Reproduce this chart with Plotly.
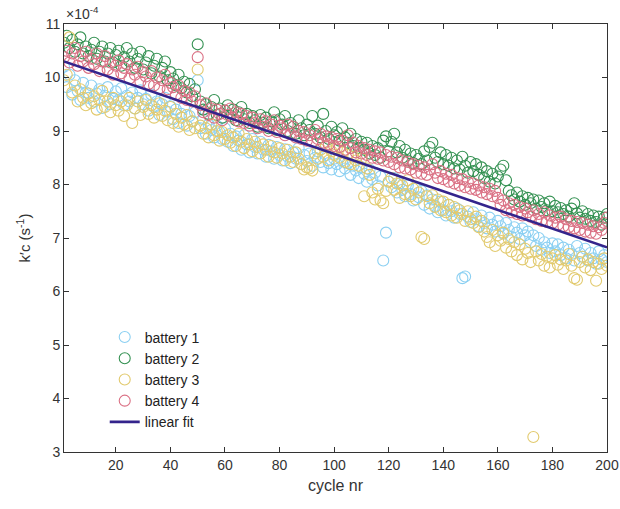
import plotly.graph_objects as go

# Rate constant k'c per cycle (units of 1e-4 s^-1), one list per battery
cycles = list(range(1, 201))

battery_1 = [
    10.20, 9.82, 10.05, 9.68, 9.95, 9.75, 9.58, 9.90, 9.72, 9.62,
    9.85, 9.55, 9.70, 9.78, 9.43, 9.66, 9.82, 9.50, 9.60, 9.74,
    9.58, 9.80, 9.48, 9.66, 9.55, 9.72, 9.42, 9.62, 9.76, 9.50,
    9.60, 9.38, 9.68, 9.45, 9.55, 9.30, 9.50, 9.62, 9.36, 9.46,
    9.22, 9.40, 9.15, 9.32, 9.45, 9.10, 9.28, 9.18, 9.35, 9.95,
    9.05, 9.22, 8.95, 9.12, 9.02, 8.88, 9.10, 8.98, 8.85, 9.05,
    8.80, 8.95, 8.72, 8.90, 8.82, 8.65, 8.92, 8.75, 8.60, 8.85,
    8.70, 8.58, 8.80, 8.65, 8.52, 8.74, 8.62, 8.48, 8.70, 8.55,
    8.45, 8.66, 8.52, 8.40, 8.60, 8.48, 8.68, 8.38, 8.55, 8.44,
    8.58, 8.35, 8.50, 8.62, 8.42, 8.32, 8.55, 8.40, 8.28, 8.48,
    8.38, 8.25, 8.45, 8.30, 8.40, 8.18, 8.35, 8.26, 8.12, 8.32,
    8.20, 8.05, 8.28, 8.10, 8.22, 7.98, 8.15, 6.58, 7.10, 8.05,
    7.95, 8.12, 7.85, 8.02, 7.90, 7.78, 7.98, 7.82, 7.70, 7.92,
    7.76, 7.88, 7.62, 7.80, 7.55, 7.72, 7.60, 7.48, 7.68, 7.52,
    7.42, 7.62, 7.50, 7.38, 7.55, 7.45, 6.25, 6.28, 7.40, 7.30,
    7.48, 7.35, 7.22, 7.42, 7.28, 7.18, 7.38, 7.25, 7.12, 7.32,
    7.22, 7.08, 7.28, 7.15, 7.02, 7.20, 7.10, 6.98, 7.18, 7.05,
    7.12, 6.92, 7.05, 6.85, 7.00, 6.78, 6.92, 6.82, 6.72, 6.90,
    6.75, 6.88, 6.68, 6.82, 6.62, 6.78, 6.70, 6.58, 6.85, 6.72,
    6.65, 6.80, 6.58, 6.72, 6.62, 6.52, 6.75, 6.60, 6.68, 6.55,
]

battery_2 = [
    10.65, 10.78, 10.55, 10.70, 10.48, 10.62, 10.75, 10.45, 10.58, 10.40,
    10.52, 10.65, 10.35, 10.48, 10.58, 10.30, 10.45, 10.55, 10.28, 10.42,
    10.50, 10.22, 10.38, 10.55, 10.30, 10.45, 10.18, 10.35, 10.48, 10.15,
    10.28, 10.40, 10.08, 10.22, 10.35, 10.02, 10.18, 10.30, 9.95, 10.10,
    9.98, 9.85, 10.05, 9.80, 9.92, 9.72, 9.88, 9.65, 9.78, 10.62,
    9.55, 9.40, 9.50, 9.32, 9.45, 9.58, 9.30, 9.42, 9.25, 9.38,
    9.48, 9.28, 9.40, 9.20, 9.35, 9.45, 9.22, 9.32, 9.15, 9.28,
    9.20, 9.08, 9.30, 9.15, 9.25, 9.05, 9.18, 9.35, 9.02, 9.22,
    9.12, 9.28, 9.00, 9.15, 9.08, 8.95, 9.20, 9.05, 8.92, 9.12,
    9.02, 9.28, 8.95, 9.10, 8.88, 9.32, 9.00, 8.85, 9.08, 8.92,
    8.98, 8.82, 9.05, 8.88, 8.78, 8.95, 8.72, 8.85, 8.68, 8.80,
    8.65, 8.78, 8.58, 8.72, 8.55, 8.68, 8.50, 8.82, 8.90, 8.62,
    8.80, 8.95, 8.60, 8.72, 8.50, 8.65, 8.45, 8.58, 8.40, 8.55,
    8.48, 8.38, 8.62, 8.45, 8.70, 8.78, 8.50, 8.42, 8.60, 8.38,
    8.55, 8.35, 8.50, 8.30, 8.45, 8.28, 8.52, 8.35, 8.22, 8.42,
    8.25, 8.38, 8.18, 8.32, 8.12, 8.25, 8.05, 8.20, 8.02, 8.15,
    8.28, 8.35, 8.08, 7.88, 7.80, 7.72, 7.85, 7.68, 7.78, 7.62,
    7.75, 7.65, 7.72, 7.55, 7.70, 7.58, 7.65, 7.52, 7.68, 7.50,
    7.60, 7.48, 7.56, 7.45, 7.52, 7.40, 7.55, 7.65, 7.46, 7.38,
    7.50, 7.36, 7.45, 7.32, 7.42, 7.30, 7.40, 7.25, 7.38, 7.45,
]

battery_3 = [
    9.95, 10.05, 10.75, 9.72, 9.85, 9.55, 9.78, 9.62, 9.48, 9.70,
    9.52, 9.65, 9.40, 9.58, 9.75, 9.45, 9.55, 9.35, 9.62, 9.48,
    9.38, 9.55, 9.28, 9.48, 9.62, 9.15, 9.42, 9.55, 9.30, 9.45,
    9.58, 9.32, 9.48, 9.25, 9.40, 9.52, 9.28, 9.38, 9.20, 9.45,
    9.15, 9.32, 9.08, 9.25, 9.12, 9.30, 9.02, 9.18, 9.05, 10.15,
    9.10, 8.95, 9.05, 8.88, 9.12, 8.92, 9.00, 8.82, 8.98, 8.85,
    8.92, 8.78, 8.88, 8.72, 8.95, 8.80, 8.68, 8.85, 8.75, 8.62,
    8.80, 8.70, 8.58, 8.75, 8.65, 8.52, 8.72, 8.60, 8.50, 8.68,
    8.58, 8.45, 8.65, 8.52, 8.42, 8.60, 8.48, 8.38, 8.28, 8.32,
    8.30, 8.26, 8.58, 8.48, 8.65, 8.52, 8.72, 8.45, 8.62, 8.55,
    8.68, 8.50, 8.60, 8.42, 8.55, 8.38, 8.52, 8.45, 8.35, 8.48,
    7.78, 8.30, 8.18, 7.85, 7.72, 7.92, 7.70, 7.65, 7.88, 8.05,
    8.12, 7.90, 8.02, 7.75, 7.98, 7.82, 8.08, 7.78, 7.92, 7.72,
    7.85, 7.02, 6.98, 7.78, 7.65, 7.80, 7.58, 7.72, 7.52, 7.68,
    7.48, 7.62, 7.42, 7.58, 7.38, 7.52, 7.45, 7.32, 7.50, 7.35,
    7.28, 7.40, 7.20, 7.32, 7.12, 7.02, 6.92, 7.15, 6.85, 7.05,
    6.95, 7.10, 6.82, 6.98, 6.75, 6.92, 6.68, 6.88, 6.60, 6.80,
    6.72, 6.55, 3.28, 6.75, 6.58, 6.70, 6.48, 6.65, 6.45, 6.62,
    6.68, 6.50, 6.60, 6.42, 6.58, 6.70, 6.48, 6.25, 6.22, 6.55,
    6.65, 6.45, 6.60, 6.40, 6.55, 6.20, 6.52, 6.42, 6.62, 6.48,
]

battery_4 = [
    10.38, 10.50, 10.28, 10.45, 10.55, 10.22, 10.40, 10.30, 10.48, 10.18,
    10.35, 10.25, 10.45, 10.12, 10.30, 10.40, 10.15, 10.28, 10.05, 10.22,
    10.32, 10.08, 10.18, 10.25, 9.98, 10.15, 10.05, 10.20, 9.92, 10.10,
    10.02, 9.88, 10.12, 9.85, 10.00, 9.80, 9.95, 10.05, 9.78, 9.90,
    9.82, 9.68, 9.85, 9.62, 9.75, 9.58, 9.72, 9.55, 9.65, 10.38,
    9.48, 9.35, 9.52, 9.30, 9.42, 9.25, 9.40, 9.32, 9.20, 9.38,
    9.30, 9.42, 9.25, 9.35, 9.18, 9.32, 9.15, 9.28, 9.10, 9.25,
    9.15, 9.05, 9.22, 9.08, 9.18, 9.00, 9.12, 9.20, 8.98, 9.10,
    9.05, 8.92, 9.12, 8.95, 9.08, 8.88, 9.00, 8.85, 8.98, 8.82,
    8.92, 8.80, 9.02, 8.85, 8.95, 8.78, 8.90, 8.75, 8.88, 8.72,
    8.85, 8.70, 8.82, 8.65, 8.92, 8.68, 8.78, 8.60, 8.72, 8.58,
    8.68, 8.55, 8.65, 8.50, 8.62, 8.48, 8.60, 8.45, 8.55, 8.42,
    8.52, 8.38, 8.50, 8.32, 8.45, 8.30, 8.42, 8.28, 8.38, 8.22,
    8.35, 8.20, 8.32, 8.18, 8.28, 8.38, 8.22, 8.12, 8.25, 8.10,
    8.20, 8.05, 8.18, 8.02, 8.12, 7.98, 8.10, 7.95, 8.05, 7.92,
    8.02, 7.90, 7.98, 7.85, 7.95, 7.82, 7.92, 7.78, 7.88, 7.75,
    7.62, 7.70, 7.52, 7.65, 7.48, 7.62, 7.45, 7.58, 7.42, 7.55,
    7.48, 7.40, 7.52, 7.35, 7.45, 7.32, 7.48, 7.30, 7.42, 7.28,
    7.38, 7.25, 7.40, 7.22, 7.35, 7.20, 7.32, 7.18, 7.30, 7.15,
    7.28, 7.12, 7.25, 7.10, 7.22, 7.08, 7.20, 7.15, 7.28, 7.38,
]

# Linear fit parameters (same 1e-4 units): k'c = intercept + slope * cycle
fit_intercept = 10.317
fit_slope = -0.01745

series_names = ["battery 1", "battery 2", "battery 3", "battery 4"]
series_values = [battery_1, battery_2, battery_3, battery_4]
series_colors = ["rgb(140,208,242)", "rgb(52,145,82)", "rgb(226,202,110)", "rgb(218,112,132)"]

x_ticks = [20, 40, 60, 80, 100, 120, 140, 160, 180, 200]
y_ticks = [3, 4, 5, 6, 7, 8, 9, 10, 11]

FONT = "Liberation Sans, Arial, Helvetica, sans-serif"

fig = go.Figure()
for name, vals, col in zip(series_names, series_values, series_colors):
    fig.add_trace(go.Scatter(
        x=cycles, y=vals, mode="markers", name=name,
        marker=dict(symbol="circle-open", size=11, color=col, line=dict(width=1.1, color=col)),
    ))

fit_x = [cycles[0], cycles[-1]]
fit_y = [fit_intercept + fit_slope * c for c in fit_x]
fig.add_trace(go.Scatter(
    x=fit_x, y=fit_y, mode="lines", name="linear fit",
    line=dict(color="rgb(52,36,140)", width=2.6),
))

axis_common = dict(
    showline=True, linecolor="#333333", linewidth=1, mirror="ticks",
    ticks="inside", ticklen=5, tickcolor="#333333",
    showgrid=False, zeroline=False,
    tickfont=dict(family=FONT, size=14, color="#333333"),
    ticklabeloverflow="allow",
    automargin=False,
)

fig.update_xaxes(
    range=[1, 200], tickvals=x_ticks,
    title=dict(text="cycle nr", font=dict(family=FONT, size=16, color="#333333"), standoff=8),
    **axis_common,
)
fig.update_yaxes(
    range=[3, 11], tickvals=y_ticks,
    title=dict(text="k\u2032c (s<sup>-1</sup>)", font=dict(family=FONT, size=15, color="#333333"), standoff=10),
    **axis_common,
)

fig.add_annotation(
    x=0, y=1, xref="paper", yref="paper", xanchor="left", yanchor="bottom",
    text="\u00d710<sup>-4</sup>", showarrow=False,
    font=dict(family=FONT, size=14, color="#333333"),
)

fig.update_layout(
    width=620, height=509,
    margin=dict(l=64, r=13, t=24, b=57),
    paper_bgcolor="white", plot_bgcolor="white",
    showlegend=True,
    legend=dict(
        x=0.075, y=0.305, xanchor="left", yanchor="top",
        bgcolor="rgba(255,255,255,0)", borderwidth=0,
        font=dict(family=FONT, size=14, color="#222222"),
        tracegroupgap=0,
    ),
)

fig.write_html("out.html")
